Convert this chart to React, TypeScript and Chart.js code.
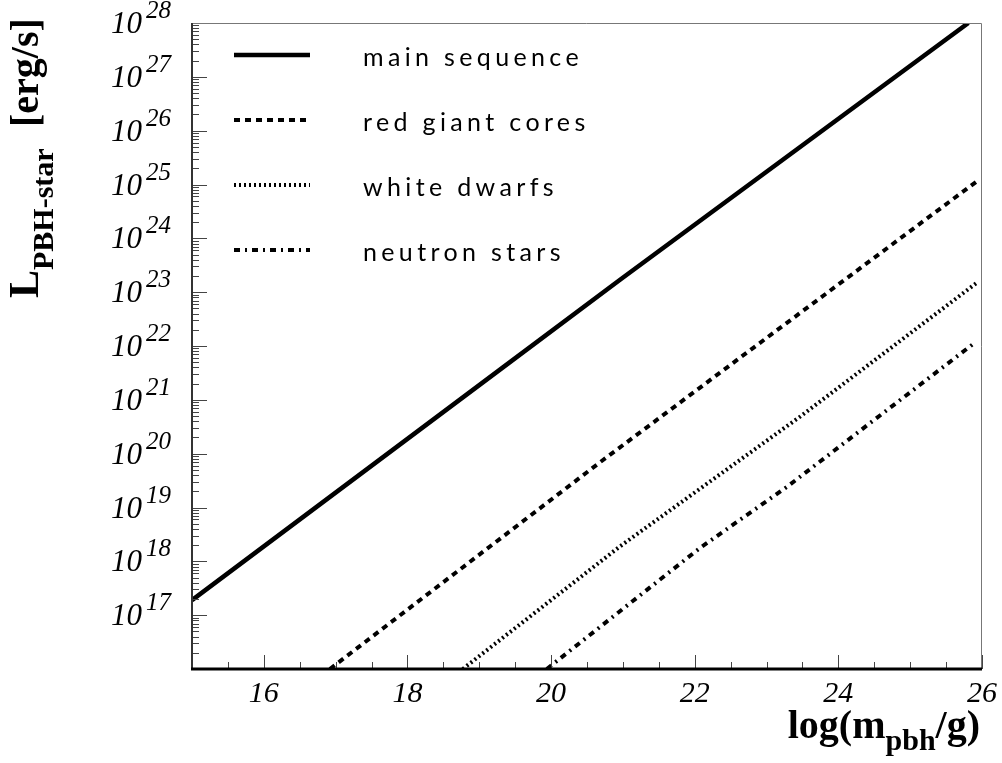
import React, { useEffect, useRef } from "react";
import { Chart, registerables } from "chart.js";

Chart.register(...registerables);

// ---- data ----
const seriesNames = ["main sequence", "red giant cores", "white dwarfs", "neutron stars"];
const mainX = [15, 19.33, 20.96, 25.81];
const mainL = [1.9e17, 4.0e21, 1.7e23, 1.0e28];
const redX = [16.92, 20.68, 22.73, 25.93];
const redL = [1.0e16, 6.9e19, 7.6e21, 1.15e25];
const whiteX = [18.77, 20.96, 23.47, 25.93];
const whiteL = [1.0e16, 1.9e18, 4.9e20, 1.5e23];
const neutronX = [19.94, 22.08, 23.29, 25.9];
const neutronL = [1.0e16, 1.8e18, 2.45e19, 1.15e22];
const xTickLabels = [16, 18, 20, 22, 24, 26];
const yTickExponents = [17, 18, 19, 20, 21, 22, 23, 24, 25, 26, 27, 28];

// ---- styles ----
const lineWidths = [4.5, 4, 4, 4];
const lineDashes: number[][] = [[], [6, 5], [2, 3], [6, 5, 2, 5]];
const SERIF = "'Liberation Serif', 'Times New Roman', serif";
const SANS = "Lato, 'DejaVu Sans', sans-serif";

const toPts = (xs: number[], ys: number[]) => xs.map((x, i) => ({ x, y: ys[i] }));

const decorPlugin = {
  id: "decor",
  afterDatasetsDraw(chart: any) {
    const { ctx, chartArea: a, scales } = chart;
    const xs = scales.x;
    const ys = scales.y;
    ctx.save();

    // y ticks (inside)
    ctx.strokeStyle = "#444";
    ctx.lineWidth = 1;
    ctx.beginPath();
    for (let e = 16; e <= 28; e++) {
      for (let k = 1; k <= 9; k++) {
        const v = k * Math.pow(10, e);
        if (v > 1e28 * 1.0001) break;
        const y = Math.round(ys.getPixelForValue(v)) + 0.5;
        const len = k === 1 ? 15 : 7;
        ctx.moveTo(a.left, y);
        ctx.lineTo(a.left + len, y);
      }
    }
    // x ticks (inside)
    for (let i = 30; i <= 52; i++) {
      const v = i / 2;
      const x = Math.round(xs.getPixelForValue(v)) + 0.5;
      const len = v % 2 === 0 ? 14 : 7;
      ctx.moveTo(x, a.bottom);
      ctx.lineTo(x, a.bottom - len);
    }
    ctx.stroke();

    // frame
    ctx.strokeStyle = "#777";
    ctx.lineWidth = 1;
    ctx.beginPath();
    ctx.moveTo(a.left, a.top + 0.5);
    ctx.lineTo(a.right - 0.5, a.top + 0.5);
    ctx.lineTo(a.right - 0.5, a.bottom);
    ctx.stroke();
    ctx.strokeStyle = "#333";
    ctx.lineWidth = 2;
    ctx.beginPath();
    ctx.moveTo(a.left, a.top);
    ctx.lineTo(a.left, a.bottom);
    ctx.stroke();
    ctx.strokeStyle = "#000";
    ctx.lineWidth = 3;
    ctx.beginPath();
    ctx.moveTo(a.left - 1, a.bottom);
    ctx.lineTo(a.right, a.bottom);
    ctx.stroke();

    // y tick labels
    ctx.fillStyle = "#000";
    ctx.textBaseline = "alphabetic";
    for (const e of yTickExponents) {
      const y = ys.getPixelForValue(Math.pow(10, e));
      ctx.font = `italic 31px ${SERIF}`;
      ctx.textAlign = "right";
      ctx.fillText("10", 142, y + 10);
      ctx.font = `italic 25px ${SERIF}`;
      ctx.textAlign = "left";
      ctx.fillText(String(e), 146, y - 5);
    }
    // x tick labels
    ctx.font = `italic 30px ${SERIF}`;
    ctx.textAlign = "center";
    for (const v of xTickLabels) {
      ctx.fillText(String(v), xs.getPixelForValue(v), 702);
    }

    // x title: log(m_pbh/g)
    ctx.textAlign = "left";
    const big = `bold 40px ${SERIF}`;
    const sub = `bold 30px ${SERIF}`;
    ctx.font = big;
    const w1 = ctx.measureText("log(m").width;
    const w3 = ctx.measureText("/g)").width;
    ctx.font = sub;
    const w2 = ctx.measureText("pbh").width;
    let tx = 980 - (w1 + w2 + w3);
    ctx.font = big;
    ctx.fillText("log(m", tx, 738);
    tx += w1;
    ctx.font = sub;
    ctx.fillText("pbh", tx, 750);
    tx += w2;
    ctx.font = big;
    ctx.fillText("/g)", tx, 738);

    // y title: L_PBH-star [erg/s]
    ctx.save();
    ctx.translate(38, 298);
    ctx.rotate(-Math.PI / 2);
    ctx.font = `bold 42px ${SERIF}`;
    ctx.fillText("L", 0, 0);
    let lx = ctx.measureText("L").width;
    ctx.font = sub;
    ctx.fillText("PBH-star", lx, 15);
    ctx.font = big;
    ctx.fillText("[erg/s]", 171, 0);
    ctx.restore();

    // legend
    const legendY = [55, 120, 185, 250];
    ctx.font = `400 25px ${SANS}`;
    const baseW = ctx.measureText(seriesNames[0]).width;
    const ls = Math.max(0, (220 - baseW) / seriesNames[0].length);
    for (let i = 0; i < seriesNames.length; i++) {
      const y = legendY[i];
      ctx.strokeStyle = "#000";
      ctx.lineWidth = lineWidths[i];
      ctx.setLineDash(lineDashes[i]);
      ctx.beginPath();
      ctx.moveTo(234, y);
      ctx.lineTo(310, y);
      ctx.stroke();
      ctx.setLineDash([]);
      ctx.fillStyle = "#000";
      (ctx as any).letterSpacing = `${ls}px`;
      ctx.fillText(seriesNames[i], 363, y + 11);
      (ctx as any).letterSpacing = "0px";
    }
    ctx.restore();
  },
};

export default function App() {
  const ref = useRef<HTMLCanvasElement | null>(null);
  useEffect(() => {
    if (!ref.current) return;
    const sets = [
      toPts(mainX, mainL),
      toPts(redX, redL),
      toPts(whiteX, whiteL),
      toPts(neutronX, neutronL),
    ];
    const chart = new Chart(ref.current, {
      type: "scatter",
      data: {
        datasets: sets.map((d, i) => ({
          label: seriesNames[i],
          data: d,
          showLine: true,
          borderColor: "#000",
          backgroundColor: "#000",
          borderWidth: lineWidths[i],
          borderDash: lineDashes[i],
          pointRadius: 0,
          pointHoverRadius: 0,
          tension: 0,
          clip: 0,
        })),
      },
      options: {
        animation: false,
        responsive: false,
        devicePixelRatio: 1,
        events: [],
        layout: { padding: { left: 192, top: 23, right: 20, bottom: 94 } },
        plugins: { legend: { display: false }, tooltip: { enabled: false }, title: { display: false } },
        scales: {
          x: { type: "linear", min: 15, max: 26, display: false },
          y: { type: "logarithmic", min: 1e16, max: 1e28, display: false },
        },
      },
      plugins: [decorPlugin],
    } as any);
    return () => chart.destroy();
  }, []);
  return (
    <div style={{ position: "fixed", left: 0, top: 0, width: 1002, height: 763, background: "#fff" }}>
      <canvas ref={ref} width={1002} height={763} />
    </div>
  );
}
